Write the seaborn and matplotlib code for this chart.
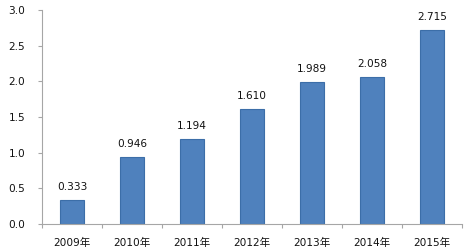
import matplotlib
matplotlib.use("Agg")
import matplotlib.pyplot as plt
import seaborn as sns
import numpy as np
import pandas as pd

years = ["2009年", "2010年", "2011年", "2012年", "2013年", "2014年", "2015年"]
values = [0.333, 0.946, 1.194, 1.610, 1.989, 2.058, 2.715]
yticks = [0.0, 0.5, 1.0, 1.5, 2.0, 2.5, 3.0]

sns.set_theme(style="white")
plt.rcParams['font.family'] = ['DejaVu Sans', 'Noto Sans CJK SC']

df = pd.DataFrame({"year": years, "value": values})

fig = plt.figure(figsize=(4.77, 2.5), dpi=100)
ax = fig.add_axes([0.088, 0.104, 0.881, 0.856])
sns.barplot(data=df, x="year", y="value", color="#4F81BD", saturation=1,
            width=0.4, edgecolor="#3C6EA8", linewidth=0.8, ax=ax)

for i, v in enumerate(values):
    ax.text(i, v + 0.11, f"{v:.3f}", ha="center", va="bottom", fontsize=7.6, color="#111111")

ax.set_xlim(-0.5, len(years) - 0.5)
ax.set_ylim(0, 3.0)
ax.set_yticks(yticks)
ax.set_yticklabels([f"{t:.1f}" for t in yticks])
ax.set_xlabel("")
ax.set_ylabel("")

for s in ["top", "right"]:
    ax.spines[s].set_visible(False)
for s in ["left", "bottom"]:
    ax.spines[s].set_color("#A6A6A6")
    ax.spines[s].set_linewidth(0.8)

ax.tick_params(axis="y", which="major", left=True, length=3, width=0.8, color="#A6A6A6",
               labelsize=7.6, labelcolor="#111111", pad=9)
ax.tick_params(axis="x", which="major", bottom=False, labelsize=7.6, labelcolor="#111111", pad=4)
ax.set_xticks(np.arange(-0.5, len(years), 1.0), minor=True)
ax.tick_params(axis="x", which="minor", bottom=True, length=3, width=0.8, color="#A6A6A6")

fig.savefig("out.png", dpi=100)
